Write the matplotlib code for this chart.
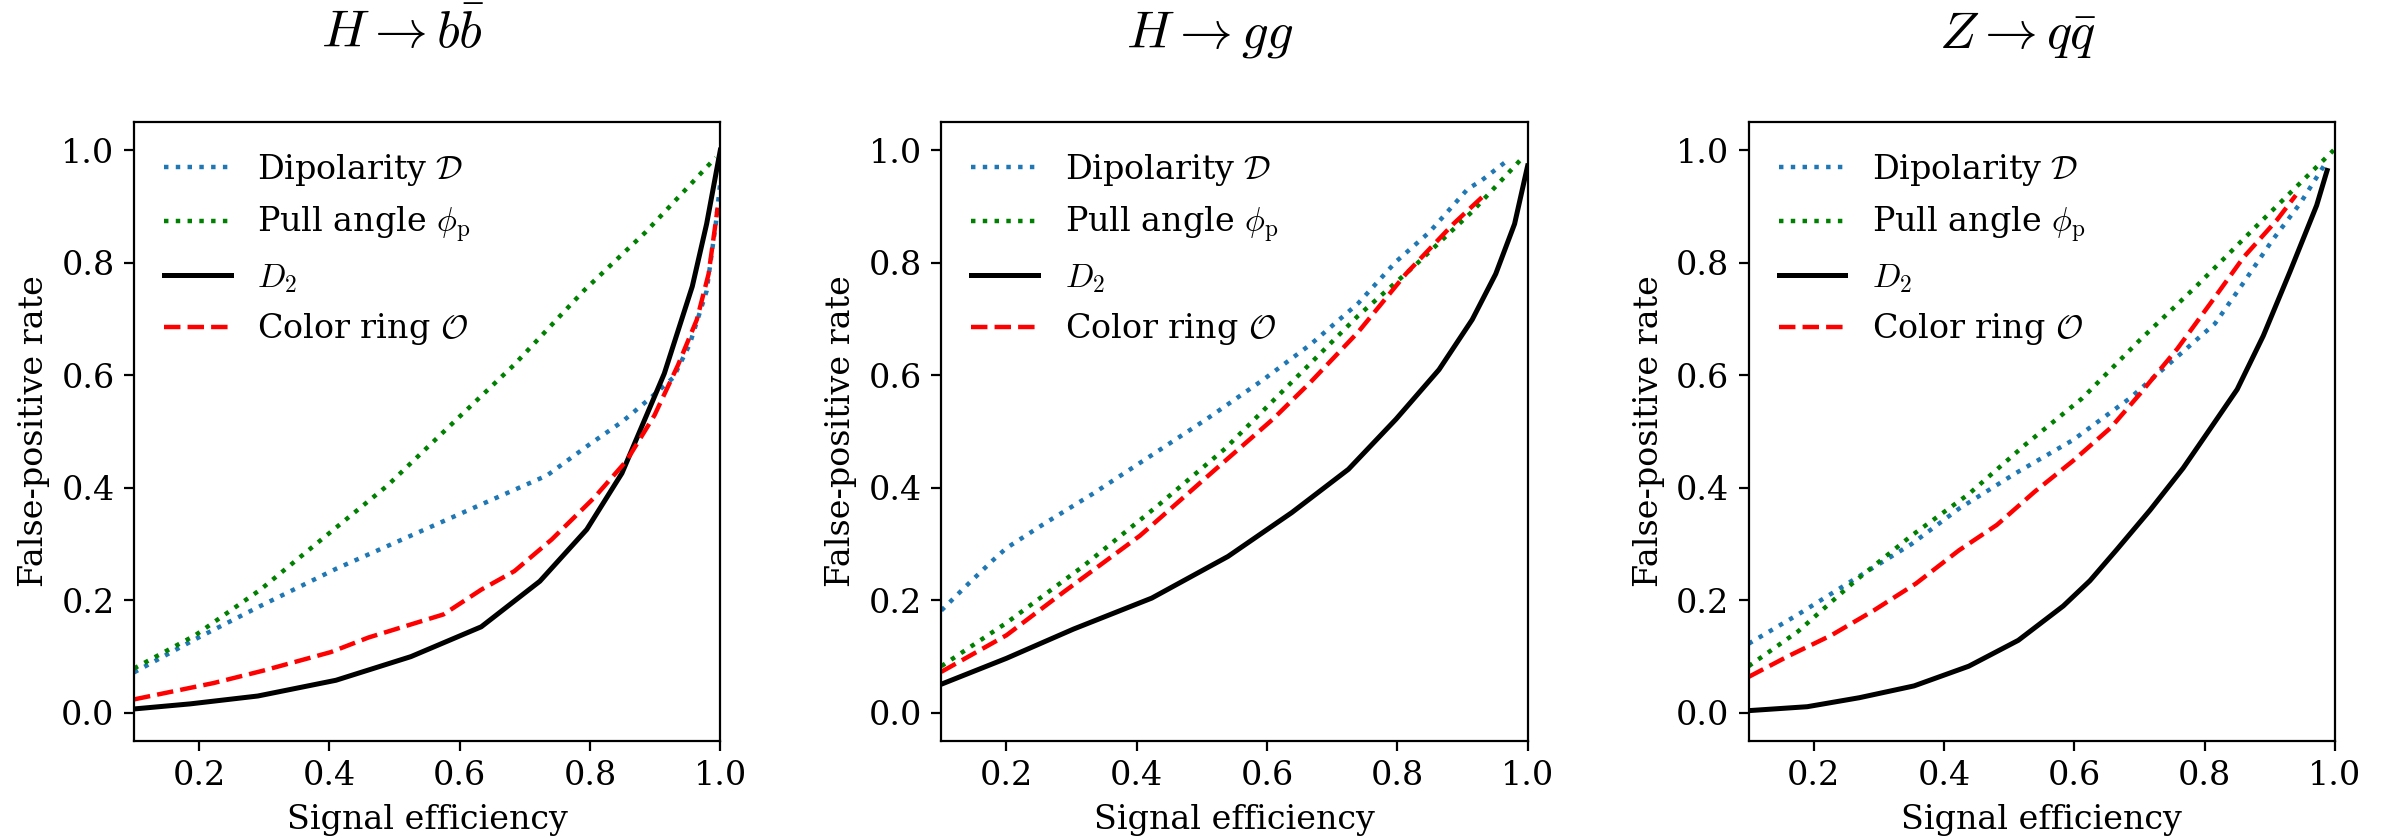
import matplotlib
matplotlib.use("Agg")
import matplotlib.pyplot as plt
import numpy as np

plt.rcParams['font.family'] = 'DejaVu Serif'
plt.rcParams['mathtext.fontset'] = 'cm'
plt.rcParams['font.size'] = 12

titles = [r'$H \to b\bar{b}$', r'$H \to gg$', r'$Z \to q\bar{q}$']
labels = [r'Dipolarity $\mathcal{D}$', r'Pull angle $\phi_\mathrm{p}$',
          r'$D_2$', r'Color ring $\mathcal{O}$']

# H -> bb
bb_dip_x = [0.1, 0.194, 0.294, 0.41, 0.525, 0.64, 0.734, 0.799, 0.85, 0.892, 0.928, 0.953, 0.979, 0.993, 1.0]
bb_dip_y = [0.072, 0.131, 0.19, 0.256, 0.315, 0.374, 0.422, 0.477, 0.518, 0.559, 0.596, 0.655, 0.75, 0.869, 0.943]
bb_pull_x = [0.1, 0.194, 0.294, 0.395, 0.489, 0.582, 0.683, 0.791, 0.885, 0.993]
bb_pull_y = [0.079, 0.138, 0.219, 0.315, 0.404, 0.507, 0.618, 0.751, 0.854, 0.987]
bb_d2_x = [0.1, 0.186, 0.29, 0.41, 0.525, 0.633, 0.723, 0.795, 0.849, 0.914, 0.957, 0.979, 1.0]
bb_d2_y = [0.007, 0.016, 0.03, 0.058, 0.10, 0.153, 0.234, 0.326, 0.426, 0.603, 0.758, 0.869, 1.0]
bb_ring_x = [0.1, 0.222, 0.298, 0.402, 0.46, 0.575, 0.633, 0.684, 0.741, 0.806, 0.856, 0.899, 0.935, 0.964, 0.982, 0.996]
bb_ring_y = [0.024, 0.053, 0.075, 0.108, 0.134, 0.175, 0.219, 0.252, 0.308, 0.382, 0.448, 0.529, 0.618, 0.699, 0.78, 0.898]

# H -> gg
gg_dip_x = [0.1, 0.142, 0.179, 0.2, 0.259, 0.332, 0.419, 0.507, 0.594, 0.667, 0.74, 0.798, 0.849, 0.908, 0.929, 0.966]
gg_dip_y = [0.182, 0.23, 0.271, 0.293, 0.337, 0.389, 0.455, 0.522, 0.592, 0.655, 0.728, 0.802, 0.854, 0.931, 0.946, 0.979]
gg_pull_x = [0.1, 0.2, 0.317, 0.434, 0.536, 0.638, 0.74, 0.827, 0.915, 0.995]
gg_pull_y = [0.083, 0.16, 0.26, 0.37, 0.47, 0.588, 0.706, 0.795, 0.891, 0.99]
gg_d2_x = [0.1, 0.2, 0.303, 0.423, 0.54, 0.638, 0.725, 0.798, 0.864, 0.915, 0.951, 0.98, 1.0]
gg_d2_y = [0.051, 0.097, 0.149, 0.204, 0.278, 0.356, 0.433, 0.522, 0.61, 0.699, 0.78, 0.869, 0.972]
gg_ring_x = [0.1, 0.2, 0.288, 0.405, 0.521, 0.609, 0.667, 0.74, 0.813, 0.886, 0.937]
gg_ring_y = [0.073, 0.138, 0.215, 0.315, 0.433, 0.522, 0.588, 0.677, 0.78, 0.869, 0.924]

# Z -> qq
qq_dip_x = [0.1, 0.176, 0.263, 0.35, 0.423, 0.51, 0.598, 0.685, 0.758, 0.816, 0.86, 0.904, 0.947, 0.983]
qq_dip_y = [0.123, 0.175, 0.238, 0.3, 0.363, 0.426, 0.485, 0.559, 0.633, 0.692, 0.765, 0.84, 0.906, 0.972]
qq_pull_x = [0.1, 0.176, 0.263, 0.35, 0.438, 0.525, 0.612, 0.7, 0.787, 0.889, 0.998]
qq_pull_y = [0.083, 0.145, 0.234, 0.315, 0.389, 0.477, 0.559, 0.662, 0.758, 0.876, 1.0]
qq_d2_x = [0.1, 0.19, 0.27, 0.354, 0.438, 0.514, 0.583, 0.624, 0.665, 0.716, 0.767, 0.808, 0.85, 0.89, 0.931, 0.972, 0.988]
qq_d2_y = [0.004, 0.011, 0.027, 0.048, 0.083, 0.129, 0.19, 0.235, 0.29, 0.36, 0.435, 0.504, 0.575, 0.67, 0.784, 0.902, 0.964]
qq_ring_x = [0.1, 0.161, 0.227, 0.292, 0.357, 0.423, 0.481, 0.539, 0.598, 0.656, 0.7, 0.758, 0.809, 0.86, 0.911, 0.94]
qq_ring_y = [0.064, 0.101, 0.138, 0.182, 0.23, 0.289, 0.334, 0.393, 0.448, 0.507, 0.566, 0.647, 0.728, 0.81, 0.876, 0.92]

panels = [
    [(bb_dip_x, bb_dip_y), (bb_pull_x, bb_pull_y), (bb_d2_x, bb_d2_y), (bb_ring_x, bb_ring_y)],
    [(gg_dip_x, gg_dip_y), (gg_pull_x, gg_pull_y), (gg_d2_x, gg_d2_y), (gg_ring_x, gg_ring_y)],
    [(qq_dip_x, qq_dip_y), (qq_pull_x, qq_pull_y), (qq_d2_x, qq_d2_y), (qq_ring_x, qq_ring_y)],
]

styles = [dict(color='#1f77b4', ls=':', lw=1.6),
          dict(color='green', ls=':', lw=1.6),
          dict(color='black', ls='-', lw=1.8),
          dict(color='red', ls='--', lw=1.6)]

fig, axes = plt.subplots(1, 3, figsize=(11.925, 4.18), dpi=200)
fig.subplots_adjust(left=0.0562, right=0.979, top=0.854, bottom=0.1136, wspace=0.377)

for ax, title, curves in zip(axes, titles, panels):
    for (x, y), st, lab in zip(curves, styles, labels):
        ax.plot(x, y, label=lab, **st)
    ax.set_xlim(0.1, 1.0)
    ax.set_ylim(-0.05, 1.05)
    ax.set_xticks([0.2, 0.4, 0.6, 0.8, 1.0])
    ax.set_yticks([0.0, 0.2, 0.4, 0.6, 0.8, 1.0])
    ax.set_xlabel('Signal efficiency')
    ax.set_ylabel('False-positive rate')
    ax.text(0.458, 1.12, title, transform=ax.transAxes, ha='center', va='baseline', fontsize=19)
    ax.legend(loc='upper left', frameon=False)

fig.savefig('out.png', dpi=200)
